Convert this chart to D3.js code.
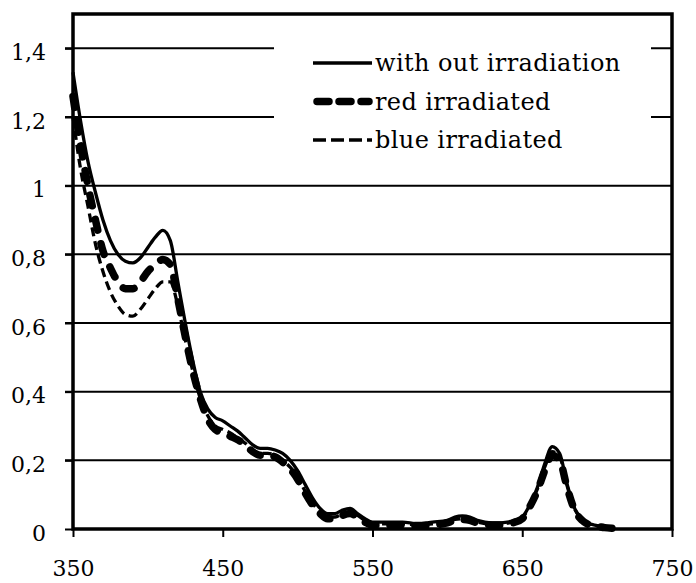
<!DOCTYPE html>
<html>
<head>
<meta charset="utf-8">
<script src="https://cdn.jsdelivr.net/npm/d3@7"></script>
<style>
  body { margin: 0; background: #fff; }
  svg { display: block; }
  text { font-family: "DejaVu Serif", serif; fill: #000; }
</style>
</head>
<body>
<div id="chart"></div>
<script>
// wavelength (nm)
var wavelengths = [350,355,360,365,370,375,380,385,390,395,400,405,410,415,420,425,430,435,440,445,
  450,455,460,465,470,475,480,485,490,495,500,505,510,515,520,525,530,535,540,545,
  550,560,570,580,590,600,605,610,615,620,625,630,635,640,645,650,655,660,665,670,
  675,680,685,690,695,700,705,710];

var withoutIrr = [1.33,1.19,1.07,0.98,0.90,0.84,0.80,0.78,0.775,0.79,0.82,0.85,0.87,0.84,0.72,0.60,0.49,0.40,0.35,0.325,
  0.315,0.30,0.285,0.265,0.245,0.235,0.235,0.23,0.22,0.20,0.17,0.13,0.09,0.06,0.045,0.045,0.055,0.06,0.045,0.03,
  0.02,0.02,0.02,0.015,0.02,0.025,0.035,0.038,0.035,0.025,0.02,0.018,0.018,0.02,0.025,0.035,0.07,0.12,0.19,0.24,
  0.22,0.13,0.06,0.03,0.015,0.01,0.005,0.003];

var redIrr = [1.26,1.12,1.00,0.90,0.81,0.76,0.72,0.70,0.70,0.72,0.75,0.77,0.785,0.77,0.67,0.56,0.46,0.38,0.32,0.29,
  0.28,0.27,0.26,0.245,0.225,0.215,0.215,0.21,0.195,0.175,0.145,0.105,0.07,0.045,0.03,0.03,0.04,0.045,0.035,0.02,
  0.012,0.012,0.012,0.01,0.012,0.018,0.025,0.028,0.025,0.018,0.014,0.012,0.012,0.015,0.02,0.03,0.065,0.11,0.17,0.215,
  0.20,0.12,0.055,0.025,0.012,0.008,0.004,0.002];

var blueIrr = [1.20,1.05,0.94,0.83,0.75,0.69,0.65,0.625,0.62,0.64,0.67,0.70,0.72,0.72,0.65,0.55,0.46,0.38,0.33,0.30,
  0.29,0.28,0.265,0.25,0.23,0.22,0.22,0.215,0.20,0.18,0.15,0.11,0.075,0.05,0.035,0.035,0.045,0.05,0.04,0.025,
  0.015,0.015,0.015,0.012,0.015,0.02,0.028,0.03,0.028,0.02,0.016,0.014,0.014,0.017,0.022,0.032,0.068,0.115,0.18,0.225,
  0.21,0.125,0.058,0.028,0.014,0.009,0.005,0.002];

var seriesNames = ["with out irradiation", "red irradiated", "blue irradiated"];

var xTicks = [350, 450, 550, 650, 750];
var yTicks = [0, 0.2, 0.4, 0.6, 0.8, 1, 1.2, 1.4];
var yTickLabels = ["0", "0,2", "0,4", "0,6", "0,8", "1", "1,2", "1,4"];

var width = 696, height = 583;
var plotL = 73, plotR = 672, plotT = 14, plotB = 529;

var x = d3.scaleLinear().domain([350, 750]).range([plotL, plotR]);
var y = d3.scaleLinear().domain([0, 1.5]).range([plotB, plotT]);

var svg = d3.select('#chart')
  .append('svg')
  .attr('width', width)
  .attr('height', height);

svg.append('rect').attr('width', width).attr('height', height).attr('fill', '#fff');

// gridlines (with the little outside tick on the left)
svg.append('g')
  .selectAll('line')
  .data(yTicks.filter(function(d) { return d > 0; }))
  .enter()
  .append('line')
  .attr('x1', plotL - 8)
  .attr('x2', plotR)
  .attr('y1', function(d) { return y(d); })
  .attr('y2', function(d) { return y(d); })
  .attr('stroke', '#000')
  .attr('stroke-width', 2);

// y axis
var yAxis = d3.axisLeft(y)
  .tickValues(yTicks)
  .tickSize(8)
  .tickSizeOuter(0)
  .tickPadding(19)
  .tickFormat(function(d, i) { return yTickLabels[i]; });

var gy = svg.append('g').attr('transform', 'translate(' + plotL + ',0)').call(yAxis);
gy.select('.domain').remove();
gy.selectAll('line').attr('stroke-width', 2);
gy.selectAll('text')
  .attr('font-size', 22)
  .attr('font-family', '"DejaVu Serif", serif')
  .attr('dy', '0.5em');

// x axis
var xAxis = d3.axisBottom(x)
  .tickValues(xTicks)
  .tickSize(8)
  .tickSizeOuter(0)
  .tickPadding(23)
  .tickFormat(d3.format('d'));

var gx = svg.append('g').attr('transform', 'translate(0,' + plotB + ')').call(xAxis);
gx.select('.domain').remove();
gx.selectAll('line').attr('stroke-width', 2);
gx.selectAll('text')
  .attr('font-size', 22)
  .attr('font-family', '"DejaVu Serif", serif');

// curves
var styles = [
  { width: 3.3, dash: null, cap: 'butt' },
  { width: 7.5, dash: '11 14', cap: 'round' },
  { width: 3.3, dash: '9 5', cap: 'butt' }
];
var seriesData = [withoutIrr, redIrr, blueIrr];

var line = d3.line()
  .x(function(d) { return x(d[0]); })
  .y(function(d) { return y(d[1]); })
  .curve(d3.curveMonotoneX);

[2, 1, 0].forEach(function(i) {
  var pts = wavelengths.map(function(w, j) { return [w, seriesData[i][j]]; });
  svg.append('path')
    .attr('d', line(pts))
    .attr('fill', 'none')
    .attr('stroke', '#000')
    .attr('stroke-width', styles[i].width)
    .attr('stroke-linecap', styles[i].cap)
    .attr('stroke-linejoin', 'round')
    .attr('stroke-dasharray', styles[i].dash);
});

// legend
svg.append('rect')
  .attr('x', 274).attr('y', 30)
  .attr('width', 377).attr('height', 135)
  .attr('fill', '#fff');

var legend = svg.selectAll('.legend')
  .data(seriesNames)
  .enter()
  .append('g')
  .attr('class', 'legend')
  .attr('transform', function(d, i) { return 'translate(313,' + (63 + i * 38.5) + ')'; });

legend.append('line')
  .attr('x1', function(d, i) { return i === 1 ? 4 : 0; })
  .attr('x2', function(d, i) { return i === 1 ? 56 : 59; })
  .attr('y1', 0).attr('y2', 0)
  .attr('stroke', '#000')
  .attr('stroke-width', function(d, i) { return styles[i].width; })
  .attr('stroke-linecap', function(d, i) { return styles[i].cap; })
  .attr('stroke-dasharray', function(d, i) { return i === 1 ? '12 10' : (i === 2 ? '13 5' : null); });

legend.append('text')
  .attr('x', 62)
  .attr('y', 8)
  .attr('font-size', 24)
  .attr('letter-spacing', 0.4)
  .text(function(d) { return d; });

// frame
svg.append('rect')
  .attr('x', plotL).attr('y', plotT)
  .attr('width', plotR - plotL).attr('height', plotB - plotT)
  .attr('fill', 'none')
  .attr('stroke', '#000')
  .attr('stroke-width', 3.5);
</script>
</body>
</html>
